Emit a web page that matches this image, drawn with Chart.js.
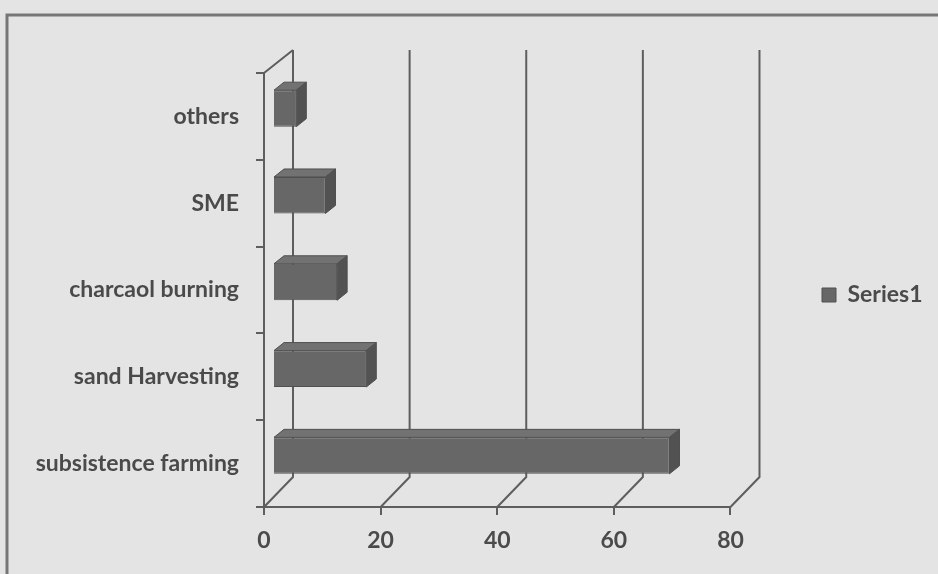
<!DOCTYPE html>
<html>
<head>
<meta charset="utf-8">
<script src="https://cdn.jsdelivr.net/npm/chart.js@4"></script>
<style>
  html, body { margin: 0; padding: 0; background: #e4e4e4; }
  #wrap { width: 938px; height: 574px; }
</style>
</head>
<body>
<div id="wrap"><canvas id="chart" width="938" height="574"></canvas></div>
<script>
const categories = ['others', 'SME', 'charcaol burning', 'sand Harvesting', 'subsistence farming'];
const series1 = [4, 9, 11, 16, 68];
const xTicks = [0, 20, 40, 60, 80];

const TEXT = '#4a4a4a';
const LINE = '#5e5e5e';
const FONT = { family: 'Lato', size: 23, weight: 'bold' };
// depth of the 3D box: back wall offset and bar offset/depth
const WALL = { dx: 29, dyTop: -23, dyBottom: -30 };
const BAR_SHIFT = { dx: 9, dy: -8 };
const BAR_DEPTH = { dx: 10, dy: -8 };

const frame3d = {
    id: 'frame3d',
    beforeDraw(chart) {
        const ctx = chart.ctx;
        ctx.save();
        ctx.fillStyle = '#e4e4e4';
        ctx.fillRect(0, 0, chart.width, chart.height);
        // outer frame (only top and left visible)
        ctx.strokeStyle = '#767676';
        ctx.lineWidth = 3;
        ctx.beginPath();
        ctx.moveTo(7, chart.height);
        ctx.lineTo(7, 15);
        ctx.lineTo(chart.width, 15);
        ctx.stroke();
        ctx.restore();
    },
    beforeDatasetsDraw(chart) {
        const ctx = chart.ctx;
        const x = chart.scales.x;
        const { top, bottom, left } = chart.chartArea;
        ctx.save();
        ctx.strokeStyle = LINE;
        ctx.lineWidth = 2;
        ctx.beginPath();
        xTicks.forEach(v => {
            const xf = x.getPixelForValue(v);
            const xb = xf + WALL.dx;
            ctx.moveTo(xb, top + WALL.dyTop);
            ctx.lineTo(xb, bottom + WALL.dyBottom);
            ctx.lineTo(xf, bottom);
        });
        // left wall top edge
        ctx.moveTo(left, top);
        ctx.lineTo(left + WALL.dx, top + WALL.dyTop);
        ctx.stroke();
        ctx.restore();

        // bars sit a little inside the box
        ctx.save();
        ctx.translate(BAR_SHIFT.dx, BAR_SHIFT.dy);
    },
    afterDatasetsDraw(chart) {
        const ctx = chart.ctx;
        chart.getDatasetMeta(0).data.forEach(bar => {
            const { x, y, base, height } = bar.getProps(['x', 'y', 'base', 'height'], true);
            const x0 = Math.min(x, base), x1 = Math.max(x, base);
            const yT = y - height / 2, yB = y + height / 2;
            const dx = BAR_DEPTH.dx, dy = BAR_DEPTH.dy;
            ctx.lineWidth = 1;
            ctx.strokeStyle = '#505050';
            // top face
            ctx.fillStyle = '#727272';
            ctx.beginPath();
            ctx.moveTo(x0, yT);
            ctx.lineTo(x1, yT);
            ctx.lineTo(x1 + dx, yT + dy);
            ctx.lineTo(x0 + dx, yT + dy);
            ctx.closePath();
            ctx.fill();
            ctx.stroke();
            // right face
            ctx.fillStyle = '#525252';
            ctx.beginPath();
            ctx.moveTo(x1, yT);
            ctx.lineTo(x1 + dx, yT + dy);
            ctx.lineTo(x1 + dx, yB + dy);
            ctx.lineTo(x1, yB);
            ctx.closePath();
            ctx.fill();
            ctx.stroke();
        });
        ctx.restore();
    },
    afterLayout(chart) {
        // push the legend out to the right edge like the original
        const lg = chart.legend;
        if (!lg) return;
        const shift = 812 - lg.left;
        lg.left += shift;
        lg.right += shift;
        lg.top += 5;
        lg.bottom += 5;
    }
};

new Chart(document.getElementById('chart'), {
    type: 'bar',
    data: {
        labels: categories,
        datasets: [{
            label: 'Series1',
            data: series1,
            backgroundColor: '#676767',
            borderColor: '#505050',
            borderWidth: 1,
            barPercentage: 0.42,
            categoryPercentage: 1,
            clip: false
        }]
    },
    options: {
        indexAxis: 'y',
        responsive: false,
        animation: false,
        layout: { padding: { top: 73, right: 87, bottom: 0, left: 0 } },
        plugins: {
            tooltip: { enabled: false },
            legend: {
                position: 'right',
                fullSize: false,
                labels: {
                    color: TEXT,
                    font: FONT,
                    boxWidth: 14,
                    boxHeight: 14,
                    padding: 10
                }
            }
        },
        scales: {
            x: {
                min: 0,
                max: 80,
                afterFit(s) { s.height = 67; },
                afterBuildTicks(s) { s.ticks = xTicks.map(v => ({ value: v })); },
                border: { display: true, color: LINE, width: 2 },
                grid: { display: true, drawOnChartArea: false, tickLength: 8, color: LINE, lineWidth: 2 },
                ticks: { color: TEXT, font: FONT, padding: 12, maxRotation: 0 }
            },
            y: {
                afterFit(s) { s.width = 264; },
                border: { display: true, color: LINE, width: 2 },
                grid: { display: true, drawOnChartArea: false, offset: true, tickLength: 8, color: LINE, lineWidth: 2 },
                ticks: { color: TEXT, font: FONT, padding: 17 }
            }
        }
    },
    plugins: [frame3d]
});
</script>
</body>
</html>
